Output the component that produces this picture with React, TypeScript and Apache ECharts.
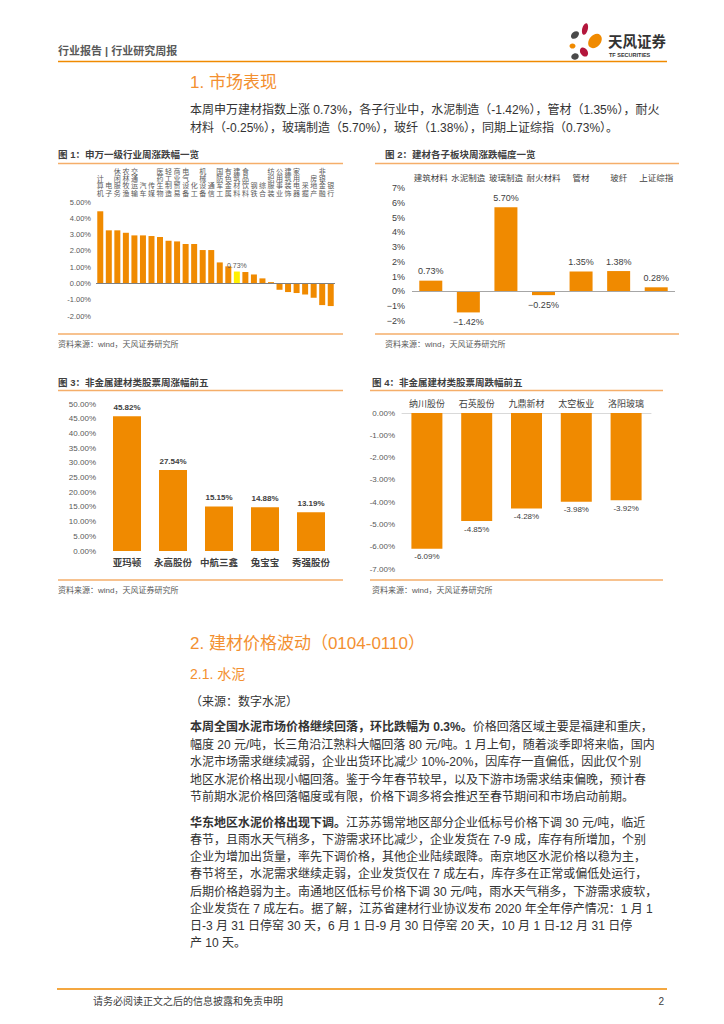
import React, { useEffect, useRef } from "react";
import * as echarts from "echarts";

const FONT = "'Liberation Sans','Noto Sans CJK SC',sans-serif";
const ORANGE = "#f08a00";
const BAR = "#f08a00";
const YELLOW = "#fff000";
const LINE = "#f5ae6a";

// Fig 1
const fig1Cats = ["计算机","电子","休闲服务","农林牧渔","交通运输","汽车","传媒","医药生物","轻工制造","商业贸易","电气设备","化工","机械设备","通信","国防军工","有色金属","建筑材料","食品饮料","钢铁","综合","纺织服装","公用事业","建筑装饰","家用电器","采掘","房地产","非银金融","银行"];
const fig1Vals = [4.43,3.26,3.26,3.11,2.95,2.95,2.91,2.85,2.62,2.58,2.42,2.42,2.05,2.05,1.29,1.05,0.73,0.70,0.55,0.31,0.08,-0.39,-0.53,-0.59,-0.68,-0.88,-1.33,-1.39];
const fig1Highlight = "建筑材料";

// Fig 2
const fig2Cats = ["建筑材料","水泥制造","玻璃制造","耐火材料","管材","玻纤","上证综指"];
const fig2Vals = [0.73,-1.42,5.70,-0.25,1.35,1.38,0.28];

// Fig 3
const fig3Cats = ["亚玛顿","永高股份","中航三鑫","兔宝宝","秀强股份"];
const fig3Vals = [45.82,27.54,15.15,14.88,13.19];

// Fig 4
const fig4Cats = ["纳川股份","石英股份","九鼎新材","太空板业","洛阳玻璃"];
const fig4Vals = [-6.09,-4.85,-4.28,-3.98,-3.92];

const intro = [
  "本周申万建材指数上涨 0.73%，各子行业中，水泥制造（-1.42%），管材（1.35%），耐火",
  "材料（-0.25%），玻璃制造（5.70%），玻纤（1.38%），同期上证综指（0.73%）。",
];
const para1 = [
  "{b|本周全国水泥市场价格继续回落，环比跌幅为 0.3%。}价格回落区域主要是福建和重庆，",
  "幅度 20 元/吨，长三角沿江熟料大幅回落 80 元/吨。1 月上旬，随着淡季即将来临，国内",
  "水泥市场需求继续减弱，企业出货环比减少 10%-20%，因库存一直偏低，因此仅个别",
  "地区水泥价格出现小幅回落。鉴于今年春节较早，以及下游市场需求结束偏晚，预计春",
  "节前期水泥价格回落幅度或有限，价格下调多将会推迟至春节期间和市场启动前期。",
];
const para2 = [
  "{b|华东地区水泥价格出现下调。}江苏苏锡常地区部分企业低标号价格下调 30 元/吨，临近",
  "春节，且雨水天气稍多，下游需求环比减少，企业发货在 7-9 成，库存有所增加，个别",
  "企业为增加出货量，率先下调价格，其他企业陆续跟降。南京地区水泥价格以稳为主，",
  "春节将至，水泥需求继续走弱，企业发货仅在 7 成左右，库存多在正常或偏低处运行，",
  "后期价格趋弱为主。南通地区低标号价格下调 30 元/吨，雨水天气稍多，下游需求疲软，",
  "企业发货在 7 成左右。据了解，江苏省建材行业协议发布 2020 年全年停产情况：1 月 1",
  "日-3 月 31 日停窑 30 天，6 月 1 日-9 月 30 日停窑 20 天，10 月 1 日-12 月 31 日停",
  "产 10 天。",
];

const pct2 = (v: number) => v.toFixed(2) + "%";
const minus = (s: string) => s.replace("-", "−");

function txt(x: number, y: number, text: string, size: number, fill: string, weight: string = "normal", align: string = "left", extra: any = {}) {
  return {
    type: "text",
    x,
    y,
    silent: true,
    style: { text, fontSize: size, fill, fontWeight: weight, fontFamily: FONT, align, verticalAlign: "middle", ...extra },
  };
}
function hline(x1: number, x2: number, y: number, color: string, w: number) {
  return { type: "line", silent: true, shape: { x1, y1: y, x2, y2: y }, style: { stroke: color, lineWidth: w } };
}
function petal(x: number, y: number, rx: number, ry: number, rot: number, fill: string) {
  return { type: "ellipse", x, y, rotation: rot, silent: true, shape: { cx: 0, cy: 0, rx, ry }, style: { fill } };
}

export default function App() {
  const ref = useRef<HTMLDivElement>(null);
  useEffect(() => {
    if (!ref.current) return;
    const chart = echarts.init(ref.current, undefined, { renderer: "svg" });
    const graphics: any[] = [];
    // header
    graphics.push(txt(58, 51, "行业报告 | 行业研究周报", 11, "#595959", "bold"));
    graphics.push(hline(58, 667, 61.5, ORANGE, 1.5));
    graphics.push(petal(575, 35, 4.5, 3.2, 0.7, "#4a4a4a"));
    graphics.push(petal(585, 29, 2.8, 6, -0.25, "#b3163c"));
    graphics.push(petal(595, 41, 5.8, 8, -0.7, ORANGE));
    graphics.push(petal(572.5, 46, 3, 2.6, 0, ORANGE));
    graphics.push(petal(584, 52, 3.6, 5, 0.6, "#b3163c"));
    graphics.push(petal(575, 56.5, 3.8, 3.2, 0.3, "#4a4a4a"));
    graphics.push(txt(608, 42, "天风证券", 14.5, "#333333", "bold"));
    graphics.push(txt(609, 55, "TF SECURITIES", 5.5, "#333333", "bold"));
    // section 1
    graphics.push(txt(190, 82, "1. 市场表现", 17, "#f39030"));
    intro.forEach((l, i) => graphics.push(txt(190, 110 + i * 18, l, 12, "#333333")));
    // figure titles / lines / sources
    graphics.push(txt(58, 154, "图 1：申万一级行业周涨跌幅一览", 9.5, "#404040", "bold"));
    graphics.push(hline(58, 343, 163.5, LINE, 1.5));
    graphics.push(hline(58, 343, 334, LINE, 1.5));
    graphics.push(txt(58, 344, "资料来源：wind，天风证券研究所", 8, "#595959"));
    graphics.push(txt(385, 154, "图 2：建材各子板块周涨跌幅度一览", 9.5, "#404040", "bold"));
    graphics.push(hline(375, 679, 163.5, LINE, 1.5));
    graphics.push(hline(375, 679, 334, LINE, 1.5));
    graphics.push(txt(385, 344, "资料来源：wind，天风证券研究所", 8, "#595959"));
    graphics.push(txt(58, 382, "图 3：非金属建材类股票周涨幅前五", 9.5, "#404040", "bold"));
    graphics.push(hline(58, 343, 390.5, LINE, 1.5));
    graphics.push(hline(58, 343, 580, LINE, 1.5));
    graphics.push(txt(58, 590, "资料来源：wind，天风证券研究所", 8, "#595959"));
    graphics.push(txt(372, 382, "图 4：非金属建材类股票周跌幅前五", 9.5, "#404040", "bold"));
    graphics.push(hline(370, 663, 390.5, LINE, 1.5));
    graphics.push(hline(370, 663, 580, LINE, 1.5));
    graphics.push(txt(372, 590, "资料来源：wind，天风证券研究所", 8, "#595959"));
    // section 2
    graphics.push(txt(190, 643, "2. 建材价格波动（0104-0110）", 17, "#f39030"));
    graphics.push(txt(190, 674, "2.1. 水泥", 14, "#f39030"));
    graphics.push(txt(190, 702, "（来源：数字水泥）", 12, "#333333"));
    const rich = { b: { fontWeight: "bold", fontSize: 12, fill: "#333333", fontFamily: FONT } };
    para1.forEach((l, i) => graphics.push(txt(190, 727 + i * 17.6, l, 12, "#333333", "normal", "left", { rich })));
    para2.forEach((l, i) => graphics.push(txt(190, 823 + i * 17.15, l, 12, "#333333", "normal", "left", { rich })));
    // footer
    graphics.push(hline(57, 667, 989, ORANGE, 1.5));
    graphics.push(txt(93, 1001, "请务必阅读正文之后的信息披露和免责申明", 10, "#404040"));
    graphics.push(txt(664, 1001, "2", 10, "#404040", "normal", "right"));

    const axisLabelBase = { fontFamily: FONT, color: "#595959" };

    chart.setOption({
      animation: false,
      backgroundColor: "#ffffff",
      textStyle: { fontFamily: FONT },
      grid: [
        { left: 96, width: 239, top: 202, height: 114 },
        { left: 412, width: 263, top: 188, height: 133 },
        { left: 104, width: 230, top: 404, height: 147 },
        { left: 402, width: 249, top: 413, height: 156 },
      ],
      xAxis: [
        {
          gridIndex: 0, type: "category", data: fig1Cats, position: "top",
          axisLine: { show: false }, axisTick: { show: false },
          axisLabel: { ...axisLabelBase, interval: 0, fontSize: 7, lineHeight: 7.4, margin: 5, formatter: (v: string) => v.split("").join("\n") },
        },
        {
          gridIndex: 1, type: "category", data: fig2Cats, position: "top",
          axisLine: { show: false }, axisTick: { show: false },
          axisLabel: { ...axisLabelBase, color: "#404040", interval: 0, fontSize: 8.5, margin: 6 },
        },
        {
          gridIndex: 2, type: "category", data: fig3Cats, position: "bottom",
          axisLine: { show: false }, axisTick: { show: false },
          axisLabel: { ...axisLabelBase, color: "#404040", interval: 0, fontSize: 9.5, fontWeight: "bold", margin: 7 },
        },
        {
          gridIndex: 3, type: "category", data: fig4Cats, position: "top",
          axisLine: { show: true, lineStyle: { color: "#d9d9d9", width: 1 } }, axisTick: { show: false },
          axisLabel: { ...axisLabelBase, color: "#404040", interval: 0, fontSize: 9, margin: 5 },
        },
      ],
      yAxis: [
        {
          gridIndex: 0, type: "value", min: -2, max: 5, interval: 1,
          splitLine: { show: false }, axisLine: { show: false }, axisTick: { show: false },
          axisLabel: { ...axisLabelBase, fontSize: 7.5, margin: 5, formatter: (v: number) => pct2(v) },
        },
        {
          gridIndex: 1, type: "value", min: -2, max: 7, interval: 1,
          splitLine: { show: false }, axisLine: { show: false }, axisTick: { show: false },
          axisLabel: { ...axisLabelBase, color: "#404040", fontSize: 9, margin: 7, formatter: (v: number) => minus(v + "%") },
        },
        {
          gridIndex: 2, type: "value", min: 0, max: 50, interval: 5,
          splitLine: { show: false }, axisLine: { show: false }, axisTick: { show: false },
          axisLabel: { ...axisLabelBase, fontSize: 8, margin: 8, formatter: (v: number) => pct2(v) },
        },
        {
          gridIndex: 3, type: "value", min: -7, max: 0, interval: 1,
          splitLine: { show: false }, axisLine: { show: false }, axisTick: { show: false },
          axisLabel: { ...axisLabelBase, fontSize: 8, margin: 7, formatter: (v: number) => pct2(v) },
        },
      ],
      series: [
        {
          type: "bar", xAxisIndex: 0, yAxisIndex: 0, barWidth: 6,
          data: fig1Vals.map((v, i) => fig1Cats[i] === fig1Highlight
            ? { value: v, itemStyle: { color: YELLOW }, label: { show: true, position: "top", distance: 3, fontSize: 7, color: "#595959", fontFamily: FONT, formatter: (p: any) => pct2(p.value) } }
            : { value: v }),
          itemStyle: { color: BAR },
          markLine: {
            silent: true, symbol: ["none", "none"], label: { show: false },
            lineStyle: { color: "#7f7f7f", type: "solid", width: 1 },
            data: [{ yAxis: 0 }],
          },
        },
        {
          type: "bar", xAxisIndex: 1, yAxisIndex: 1, barWidth: 23,
          itemStyle: { color: BAR },
          data: fig2Vals.map((v) => ({ value: v, label: { position: v >= 0 ? "top" : "bottom" } })),
          label: { show: true, distance: 5, fontSize: 9, color: "#404040", fontFamily: FONT, formatter: (p: any) => minus(pct2(p.value)) },
          markLine: {
            silent: true, symbol: ["none", "none"], label: { show: false },
            lineStyle: { color: "#a6a6a6", type: "solid", width: 1 },
            data: [{ yAxis: 0 }],
          },
        },
        {
          type: "bar", xAxisIndex: 2, yAxisIndex: 2, barWidth: 28,
          itemStyle: { color: BAR },
          data: fig3Vals,
          label: { show: true, position: "top", distance: 5, fontSize: 8, fontWeight: "bold", color: "#404040", fontFamily: FONT, formatter: (p: any) => pct2(p.value) },
        },
        {
          type: "bar", xAxisIndex: 3, yAxisIndex: 3, barWidth: 31,
          itemStyle: { color: BAR },
          data: fig4Vals,
          label: { show: true, position: "bottom", distance: 4, fontSize: 8, color: "#404040", fontFamily: FONT, formatter: (p: any) => pct2(p.value) },
        },
      ],
      graphic: graphics,
    });
    return () => chart.dispose();
  }, []);
  return (
    <div
      ref={ref}
      style={{ position: "fixed", left: 0, top: 0, width: 724, height: 1024, background: "#fff" }}
    />
  );
}
